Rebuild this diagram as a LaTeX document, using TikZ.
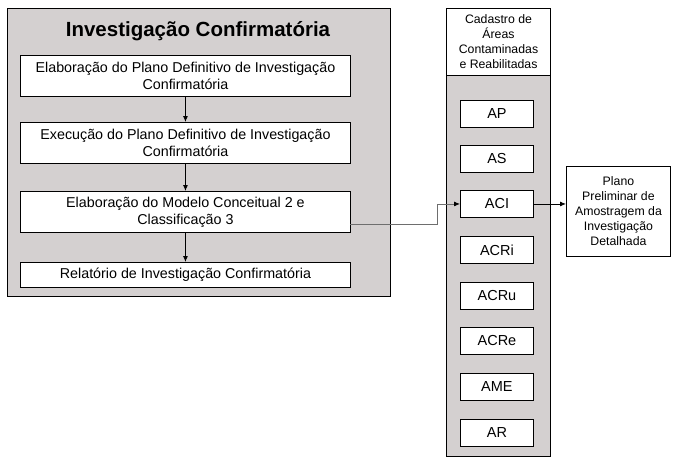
\documentclass[tikz,border=0pt]{standalone}
\usepackage{fontspec}
\setmainfont{Liberation Sans}
\usetikzlibrary{arrows.meta}
\definecolor{panelgray}{RGB}{212,208,208}
\definecolor{linkgray}{RGB}{110,110,110}
\begin{document}
\begin{tikzpicture}[x=1pt,y=-1pt,
  panel/.style={draw=black,line width=1pt,fill=panelgray},
  stepbox/.style={draw=black,line width=0.9pt,fill=white,align=center,inner sep=0pt,
    font=\fontsize{14.3}{17}\selectfont},
  codebox/.style={draw=black,line width=0.9pt,fill=white,inner sep=0pt,
    minimum width=73pt,minimum height=27pt,font=\fontsize{14.5}{17}\selectfont},
  arr/.style={-{Latex[length=6pt,width=5pt]},line width=0.8pt}]
\useasboundingbox (0,0) rectangle (684,461);
% left panel
\node[panel,minimum width=383pt,minimum height=288pt,inner sep=0pt,anchor=north west] (left) at (7,8) {};
\node[font=\fontsize{20.5}{24}\selectfont\bfseries] (title) at (198,31) {Investigação Confirmatória};
\node[stepbox,minimum width=330pt,minimum height=41pt,anchor=north west] (b1) at (20,55) {Elaboração do Plano Definitivo de Investigação\\Confirmatória};
\node[stepbox,minimum width=330pt,minimum height=41pt,anchor=north west] (b2) at (20,122) {Execução do Plano Definitivo de Investigação\\Confirmatória};
\node[stepbox,minimum width=330pt,minimum height=41pt,anchor=north west] (b3) at (20,191) {Elaboração do Modelo Conceitual 2 e\\Classificação 3};
\node[stepbox,minimum width=330pt,minimum height=25pt,anchor=north west] (b4) at (20,262) {Relatório de Investigação Confirmatória};
\draw[arr] (b1.south) -- (b2.north);
\draw[arr] (b2.south) -- (b3.north);
\draw[arr] (b3.south) -- (b4.north);
% right column
\node[panel,minimum width=104pt,minimum height=448pt,inner sep=0pt,anchor=north west] (col) at (446,8) {};
\node[draw=black,line width=1pt,fill=white,minimum width=104pt,minimum height=67pt,inner sep=0pt,anchor=north west,align=center,font=\fontsize{12.3}{15}\selectfont] (head) at (446,8) {Cadastro de\\Áreas\\Contaminadas\\e Reabilitadas};
\node[codebox,anchor=north west] (ap) at (460,100) {AP};
\node[codebox,anchor=north west] (as) at (460,145) {AS};
\node[codebox,anchor=north west] (aci) at (460,190) {ACI};
\node[codebox,anchor=north west] (acri) at (460,236) {ACRi};
\node[codebox,anchor=north west] (acru) at (460,282) {ACRu};
\node[codebox,anchor=north west] (acre) at (460,327) {ACRe};
\node[codebox,anchor=north west] (ame) at (460,373) {AME};
\node[codebox,anchor=north west] (ar) at (460,419) {AR};
% output box
\node[draw=black,line width=0.9pt,fill=white,minimum width=104pt,minimum height=90pt,inner sep=0pt,anchor=north west,align=center,font=\fontsize{12.3}{15}\selectfont] (plano) at (566,166) {Plano\\Preliminar de\\Amostragem da\\Investigação\\Detalhada};
% connectors
\coordinate (src) at (350,224);
\coordinate (bend) at (437,224);
\draw[linkgray,line width=0.8pt,-{Latex[length=6pt,width=5pt,color=black]}] (src) -- (bend) |- (aci.west);
\draw[arr] (aci.east) -- (plano.west |- aci.east);
\end{tikzpicture}
\end{document}
